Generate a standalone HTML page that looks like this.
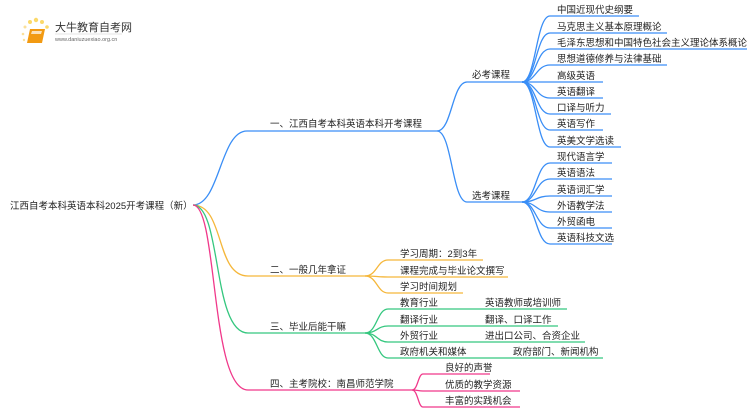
<!DOCTYPE html>
<html><head><meta charset="utf-8"><style>
html,body{margin:0;padding:0;background:#fff;}
svg{display:block;}
text{font-family:"Liberation Sans","Noto Sans CJK SC",sans-serif;font-size:9.5px;fill:#222;}
</style></head><body>
<svg width="750" height="410" viewBox="0 0 750 410" xmlns="http://www.w3.org/2000/svg">
<g>
<circle cx="30" cy="22" r="2" fill="#fbd96a"/><circle cx="36" cy="20" r="2.2" fill="#fbd96a"/><circle cx="42" cy="22" r="2" fill="#fbd96a"/><circle cx="47" cy="27" r="1.8" fill="#fbd96a"/><circle cx="25" cy="27" r="1.5" fill="#fbe09a"/><circle cx="23" cy="34" r="1.3" fill="#fbe09a"/><circle cx="24" cy="40" r="1.2" fill="#fbe09a"/>
<path d="M30 29 L45 29 L42 43 L27 43 Z" fill="#f29a12"/>
<path d="M32 31 L42 31 L41 34 L31 34 Z" fill="#fff" opacity="0.7"/>
<text x="55" y="31" style="font-size:11px;fill:#333">大牛教育自考网</text>
<line x1="55" y1="34" x2="122" y2="34" stroke="#ccc" stroke-width="0.6"/>
<text x="55" y="41" style="font-size:5.5px;fill:#666">www.daniuzuexiao.org.cn</text>
</g>
<text x="10" y="209">江西自考本科英语本科2025开考课程（新）</text>
<g fill="none" stroke-width="1.3">
<g stroke="#3a8ef6">
<path d="M193 205 C220 205 220 131 247 131 L437 131"/>
<path d="M437 131 C452 131 452 82 467 82 L522 82"/>
<path d="M437 131 C452 131 452 202 467 202 L522 202"/>
<path d="M522 82 C536 82 536 16 550 16 L639 16"/>
<path d="M522 82 C536 82 536 33 550 33 L667 33"/>
<path d="M522 82 C536 82 536 49 550 49 L747 49"/>
<path d="M522 82 C536 82 536 65 550 65 L667 65"/>
<path d="M522 82 L603 82"/>
<path d="M522 82 C536 82 536 98 550 98 L603 98"/>
<path d="M522 82 C536 82 536 114 550 114 L611 114"/>
<path d="M522 82 C536 82 536 130 550 130 L603 130"/>
<path d="M522 82 C536 82 536 147 550 147 L621 147"/>
<path d="M522 202 C536 202 536 163 550 163 L612 163"/>
<path d="M522 202 C536 202 536 179 550 179 L612 179"/>
<path d="M522 202 C536 202 536 196 550 196 L612 196"/>
<path d="M522 202 C536 202 536 212 550 212 L612 212"/>
<path d="M522 202 C536 202 536 228 550 228 L612 228"/>
<path d="M522 202 C536 202 536 244 550 244 L612 244"/>
</g>
<g stroke="#f5b73b">
<path d="M193 205 C225 205 215 276 248 276 L365 276"/>
<path d="M365 276 C377 276 377 260 388 260 L483 260"/>
<path d="M365 276 C377 276 377 277 388 277 L508 277"/>
<path d="M365 276 C377 276 377 293 388 293 L463 293"/>
</g>
<g stroke="#35c77f">
<path d="M193 205 C222 205 212 333 248 333 L365 333"/>
<path d="M365 333 C377 333 377 309 388 309 L567 309"/>
<path d="M365 333 C377 333 377 326 388 326 L558 326"/>
<path d="M365 333 C377 333 377 342 388 342 L585 342"/>
<path d="M365 333 C377 333 377 358 388 358 L603 358"/>
</g>
<g stroke="#f0388a">
<path d="M193 205 C218 205 210 390 248 390 L412 390"/>
<path d="M412 390 C418 390 418 374 423 374 L490 374"/>
<path d="M412 390 C418 390 418 391 423 391 L520 391"/>
<path d="M412 390 C418 390 418 407 423 407 L520 407"/>
</g>
</g>
<text x="270" y="127">一、江西自考本科英语本科开考课程</text>
<text x="472" y="78">必考课程</text>
<text x="472" y="199">选考课程</text>
<text x="557" y="13">中国近现代史纲要</text>
<text x="557" y="30">马克思主义基本原理概论</text>
<text x="557" y="46">毛泽东思想和中国特色社会主义理论体系概论</text>
<text x="557" y="62">思想道德修养与法律基础</text>
<text x="557" y="79">高级英语</text>
<text x="557" y="95">英语翻译</text>
<text x="557" y="111">口译与听力</text>
<text x="557" y="127">英语写作</text>
<text x="557" y="144">英美文学选读</text>
<text x="557" y="160">现代语言学</text>
<text x="557" y="176">英语语法</text>
<text x="557" y="193">英语词汇学</text>
<text x="557" y="209">外语教学法</text>
<text x="557" y="225">外贸函电</text>
<text x="557" y="241">英语科技文选</text>
<text x="270" y="273">二、一般几年拿证</text>
<text x="400" y="257">学习周期：2到3年</text>
<text x="400" y="274">课程完成与毕业论文撰写</text>
<text x="400" y="290">学习时间规划</text>
<text x="270" y="330">三、毕业后能干嘛</text>
<text x="400" y="306">教育行业</text><text x="485" y="306">英语教师或培训师</text>
<text x="400" y="323">翻译行业</text><text x="485" y="323">翻译、口译工作</text>
<text x="400" y="339">外贸行业</text><text x="485" y="339">进出口公司、合资企业</text>
<text x="400" y="355">政府机关和媒体</text><text x="513" y="355">政府部门、新闻机构</text>
<text x="270" y="387">四、主考院校：南昌师范学院</text>
<text x="445" y="371">良好的声誉</text>
<text x="445" y="388">优质的教学资源</text>
<text x="445" y="404">丰富的实践机会</text>
</svg>
</body></html>
